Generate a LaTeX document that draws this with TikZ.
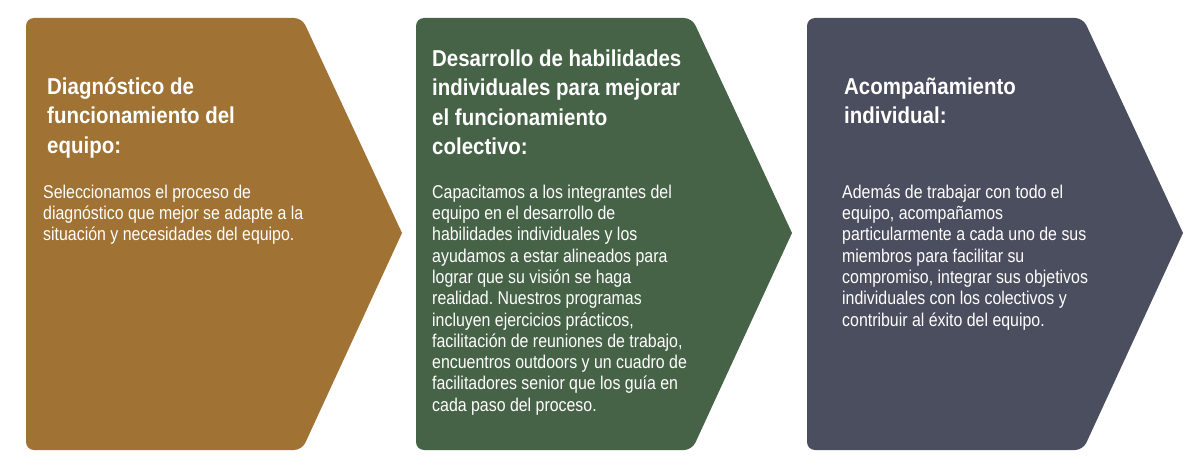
\documentclass[tikz,border=0pt]{standalone}
\usepackage{fontspec}
\usepackage{tikz}
\setmainfont{Liberation Sans}
\newfontfamily\headfont[FakeStretch=0.89]{Liberation Sans}
\newfontfamily\bodyfont[FakeStretch=0.86]{Liberation Sans}
\frenchspacing
\definecolor{ochre}{RGB}{160,114,52}
\definecolor{moss}{RGB}{71,99,71}
\definecolor{slate}{RGB}{75,78,94}
\tikzset{panel/.style={rounded corners=8pt},
    heading/.style={anchor=north west,inner sep=0pt,align=left,text=white,
        font=\headfont\bfseries\fontsize{23}{29.5}\selectfont},
    bodytext/.style={anchor=north west,inner sep=0pt,align=left,text=white,
        font=\bodyfont\fontsize{18.5}{21.3}\selectfont}}

\begin{document}
\begin{tikzpicture}[x=1pt,y=-1pt]
    \useasboundingbox (0,0) rectangle (1200,468);
    % chevrons
    \fill[ochre,panel] (26,18) -- (302,18) [sharp corners] -- (402,233)
        [panel] -- (302,450) -- (26,450) -- cycle;
    \fill[moss,panel] (416,18) -- (692,18) [sharp corners] -- (792,233)
        [panel] -- (692,450) -- (416,450) -- cycle;
    \fill[slate,panel] (807,18) -- (1083,18) [sharp corners] -- (1183,233)
        [panel] -- (1083,450) -- (807,450) -- cycle;
    % texts
    \node[heading] (diag) at (47,72) {\rule{0pt}{22pt}Diagnóstico de\\
        funcionamiento del\\ equipo:};
    \node[bodytext] (diagtxt) at (43,180) {\rule{0pt}{18pt}Seleccionamos el proceso de\\
        diagnóstico que mejor se adapte a la\\
        situación y necesidades del equipo.};
    \node[heading] (habil) at (432,44) {\rule{0pt}{22pt}Desarrollo de habilidades\\
        individuales para mejorar\\ el funcionamiento\\ colectivo:};
    \node[bodytext] (habiltxt) at (432,180) {\rule{0pt}{18pt}Capacitamos a los integrantes del\\
        equipo en el desarrollo de\\
        habilidades individuales y los\\
        ayudamos a estar alineados para\\
        lograr que su visión se haga\\
        realidad. Nuestros programas\\
        incluyen ejercicios prácticos,\\
        facilitación de reuniones de trabajo,\\
        encuentros outdoors y un cuadro de\\
        facilitadores senior que los guía en\\
        cada paso del proceso.};
    \node[heading] (acomp) at (844,72) {\rule{0pt}{22pt}Acompañamiento\\ individual:};
    \node[bodytext] (acomptxt) at (842,180) {\rule{0pt}{18pt}Además de trabajar con todo el\\
        equipo, acompañamos\\
        particularmente a cada uno de sus\\
        miembros para facilitar su\\
        compromiso, integrar sus objetivos\\
        individuales con los colectivos y\\
        contribuir al éxito del equipo.};
\end{tikzpicture}
\end{document}
